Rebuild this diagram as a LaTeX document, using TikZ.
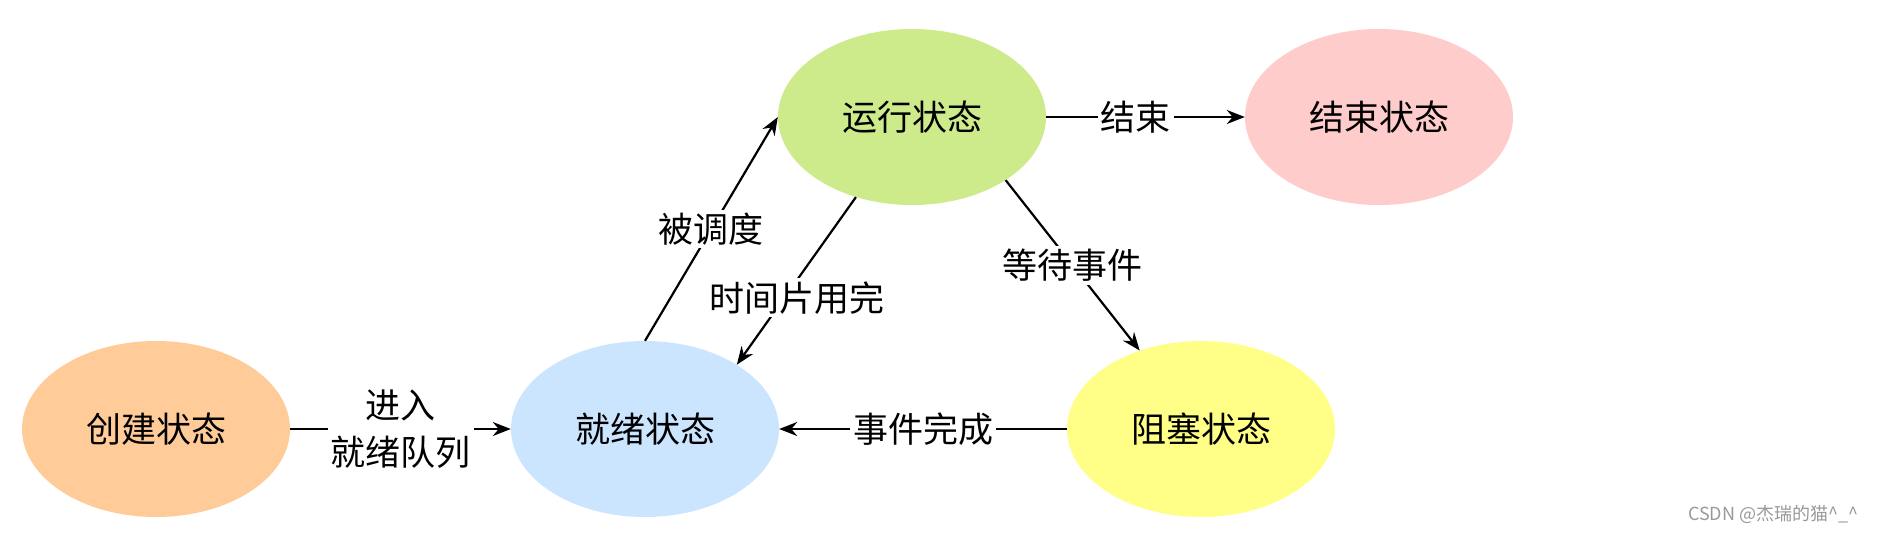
\documentclass[tikz,border=0pt]{standalone}
\usepackage{fontspec}
\newfontfamily\cjk{Noto Sans CJK SC}
\usetikzlibrary{shapes.geometric,arrows.meta}
\definecolor{createc}{HTML}{FFCC99}
\definecolor{readyc}{HTML}{CCE5FF}
\definecolor{runc}{HTML}{CDEB8B}
\definecolor{endc}{HTML}{FFCCCC}
\definecolor{blockc}{HTML}{FFFF88}
\begin{document}
\begin{tikzpicture}[x=1pt, y=-1pt,
  every node/.style={font=\cjk\fontsize{35}{47}\selectfont},
  state/.style={ellipse, minimum width=268pt, minimum height=176pt, inner sep=0pt},
  trans/.style={line width=2.2pt, -{Stealth[length=18pt,width=14pt]}},
  lbl/.style={fill=white, inner sep=3pt, align=center}]
\useasboundingbox (0,0) rectangle (1895,533);
\node[state, fill=createc] (create) at (156,429) {创建状态};
\node[state, fill=readyc]  (ready)  at (645,429) {就绪状态};
\node[state, fill=runc]    (run)    at (912,117) {运行状态};
\node[state, fill=endc]    (end)    at (1379,117) {结束状态};
\node[state, fill=blockc]  (block)  at (1201,429) {阻塞状态};
\draw[trans] (create.east) -- node[lbl] {进入\\就绪队列} (ready.west);
\draw[trans] (ready.north) -- node[lbl] {被调度} (run.west);
\draw[trans] (run.235) -- node[lbl, pos=0.6, xshift=13pt] {时间片用完} (ready.35);
\draw[trans] (run.326) -- node[lbl] {等待事件} (block.128);
\draw[trans] (run.east) -- node[lbl, pos=0.45] {结束} (end.west);
\draw[trans] (block.west) -- node[lbl] {事件完成} (ready.east);
\node[font=\cjk\fontsize{18}{22}\selectfont, text=black!40, anchor=east] (mark) at (1862,514) {CSDN @杰瑞的猫\^{}\_\^{}};
\end{tikzpicture}
\end{document}
